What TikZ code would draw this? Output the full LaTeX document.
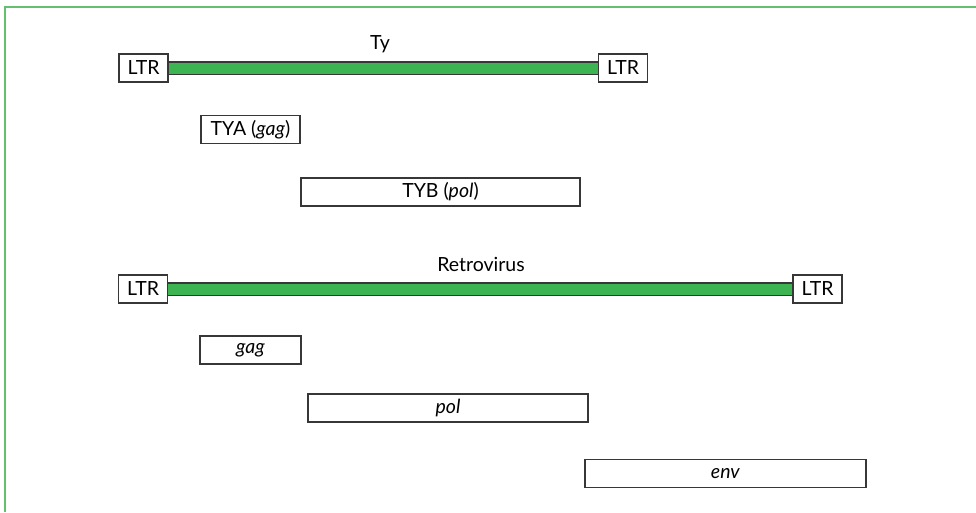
\documentclass[tikz,border=0pt]{standalone}
\usepackage{fontspec}
\setmainfont{Lato}
\usepackage{xcolor}
\definecolor{barGreen}{RGB}{60,180,82}
\definecolor{frameGreen}{RGB}{98,192,110}
\definecolor{boxGray}{RGB}{55,55,55}
\tikzset{
  gene/.style={draw=boxGray,fill=white,line width=1.2pt,inner sep=0pt,minimum height=28pt},
  ltr/.style={gene,minimum width=49pt},
  genome/.style={draw=boxGray,line width=1.1pt,double=barGreen,double distance=11pt}
}

\begin{document}
\begin{tikzpicture}[x=1pt,y=-1pt,font=\fontsize{19.5}{22}\selectfont]
  \useasboundingbox (0,0) rectangle (976,512);
  \draw[frameGreen,line width=2pt] (5,512) -- (5,7) -- (976,7);
  % Ty element
  \node[ltr] (tyL) at (143.5,68) {LTR};
  \node[ltr] (tyR) at (623,68) {LTR};
  \draw[genome] (tyL) -- (tyR);
  \node (tyLab) at (380,44) {Ty};
  % retrovirus
  \node[ltr] (rvL) at (143,289) {LTR};
  \node[ltr] (rvR) at (817.5,289) {LTR};
  \draw[genome] (rvL) -- (rvR);
  \node (rvLab) at (481,264) {Retrovirus};
  % open reading frames
  \foreach \nm/\x/\y/\w/\lab in {tya/250.5/129.5/99/{TYA (\textit{gag})},
      tyb/440.5/192/279/{TYB (\textit{pol})},
      gag/250.5/350/101/{\textit{gag}},
      pol/448/408/280/{\textit{pol}},
      env/725.5/473.5/281/{\textit{env}}}{
    \node[gene,minimum width=\w pt] (\nm) at (\x,\y) {\lab};
  }
\end{tikzpicture}
\end{document}
